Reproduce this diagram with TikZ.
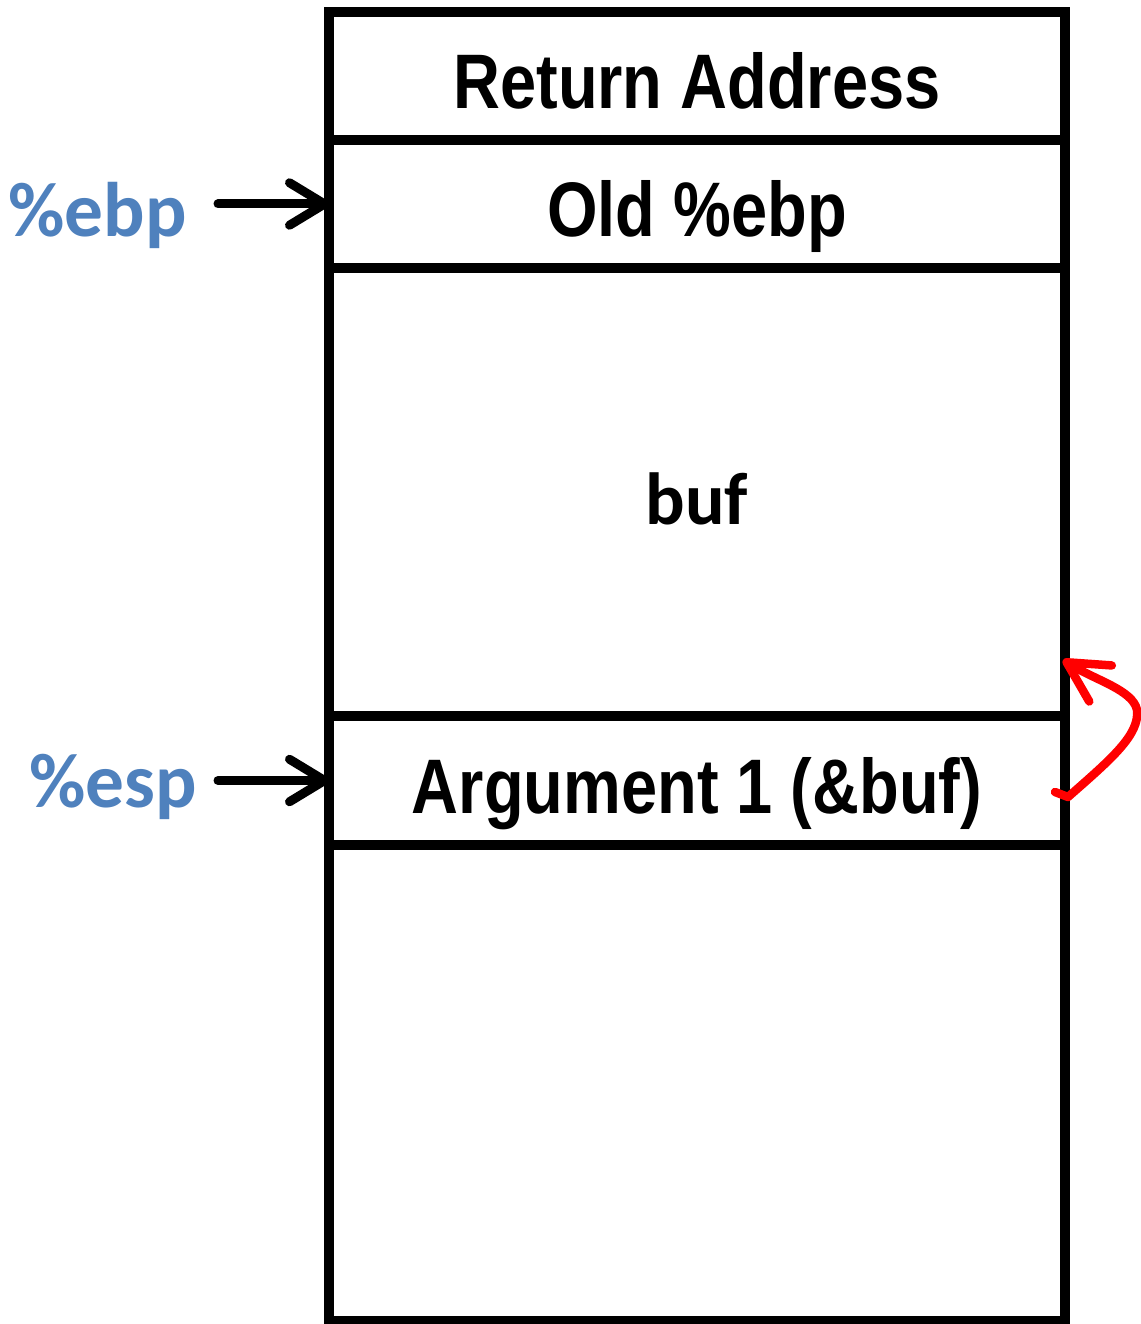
\documentclass[tikz,border=0pt]{standalone}
\usepackage{fontspec}
\newfontfamily\cellfont{Liberation Sans}[FakeStretch=0.84]
\newfontfamily\regfont{Carlito}
\usetikzlibrary{positioning,arrows.meta}

\definecolor{regblue}{HTML}{4F81BD}
\definecolor{curlred}{HTML}{FF0000}

\tikzset{
	slot/.style={draw, line width=0.2cm, outer sep=0pt, minimum width=14.72cm,
		text height=1.3cm, text depth=0pt,
		font=\cellfont\bfseries\fontsize{44}{50}\selectfont},
	reg/.style={text=regblue, inner xsep=0pt,
		font=\regfont\bfseries\fontsize{44}{50}\selectfont},
	ptr/.style={line width=0.18cm, line cap=round, line join=round,
		-{Straight Barb[length=0.7cm,width=0.85cm,line cap=round,line join=round]}},
	redcurl/.style={draw=curlred, line width=0.17cm, line cap=round, line join=round,
		-{Straight Barb[length=0.8cm,width=0.85cm,line cap=round,line join=round]}},
}

\begin{document}
\begin{tikzpicture}
	\useasboundingbox (0,0) rectangle (22.8,-26.48);

	% the stack, top to bottom
	\node [slot, minimum height=2.56cm, anchor=north] (retaddr) at (13.94,-0.24) {Return Address};
	\node [slot, minimum height=2.56cm, below=0pt of retaddr] (oldebp) {Old \%ebp};
	\node [slot, minimum height=8.96cm, below=0pt of oldebp,
		font=\regfont\bfseries\fontsize{42}{50}\selectfont] (buf) {buf};
	\node [slot, minimum height=2.58cm, below=0pt of buf] (arg) {Argument 1 (\&buf)};
	\node [slot, minimum height=9.52cm, below=0pt of arg] (free) {};

	% registers
	\node [reg, anchor=base east] (ebp) at ([xshift=-2.84cm,yshift=-0.66cm]oldebp.west) {\%ebp};
	\node [reg, anchor=base east] (esp) at ([xshift=-2.64cm,yshift=-0.53cm]arg.west) {\%esp};
	\draw [ptr, shorten <=0.62cm] (ebp.east |- oldebp.west) -- (oldebp.west);
	\draw [ptr, shorten <=0.42cm] (esp.east |- arg.west) -- (arg.west);

	% &buf points back up into buf
	\coordinate (hook) at (21.1,-15.84);
	\coordinate (aim) at (21.26,-13.2);
	\draw [redcurl] (hook) -- (21.36,-15.94)
		.. controls (22.2,-15.2) and (22.8,-14.7) .. (22.74,-14.2)
		.. controls (22.66,-13.8) and (21.9,-13.6) .. (aim);
\end{tikzpicture}
\end{document}
